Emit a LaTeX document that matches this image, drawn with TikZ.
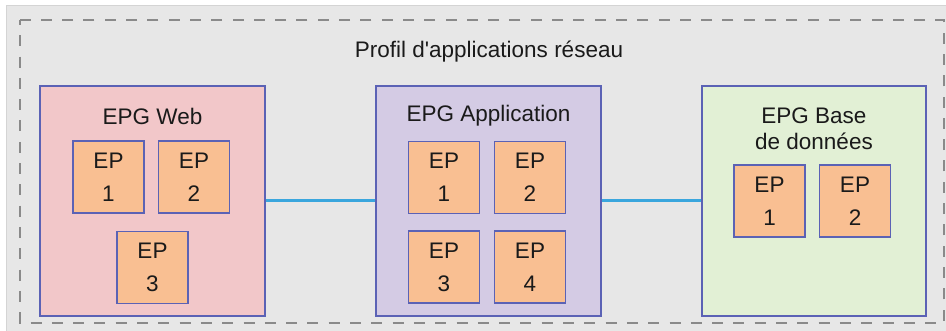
\documentclass[tikz,border=0pt]{standalone}
\usepackage{fontspec}
\setmainfont{Liberation Sans}
\definecolor{bgfill}{HTML}{E7E7E7}
\definecolor{bgline}{HTML}{D4D4D4}
\definecolor{dashline}{HTML}{8A8A8A}
\definecolor{webfill}{HTML}{F2C7C9}
\definecolor{appfill}{HTML}{D4CBE4}
\definecolor{dbfill}{HTML}{E2F0D5}
\definecolor{epfill}{HTML}{F9BF92}
\definecolor{boxline}{HTML}{5B62B5}
\definecolor{linkline}{HTML}{3AA6DD}
\definecolor{ink}{HTML}{1A1A1A}
\tikzset{
  x=1pt, y=-1pt,
  groupbox/.style={draw=boxline, line width=1.5pt, minimum width=225pt,
    minimum height=230pt, inner sep=0pt},
  epbox/.style={draw=boxline, line width=1.5pt, fill=epfill,
    minimum width=71pt, minimum height=72pt, inner sep=0pt, align=center,
    text=ink, font=\fontsize{22.5}{33}\selectfont},
  titletext/.style={text=ink, align=center, inner sep=0pt,
    font=\fontsize{22.5}{26}\selectfont},
  link/.style={draw=linkline, line width=3pt},
}
\begin{document}
\begin{tikzpicture}
\useasboundingbox (0,0) rectangle (946,331);
\clip (0,0) rectangle (946,331);
% grey panel and its dashed frame
\draw[fill=bgfill, draw=bgline, line width=1pt] (6,6) rectangle (960,345);
\draw[dashline, line width=2.5pt, dash pattern=on 11pt off 10.3pt, dash phase=6pt]
  (20,20) rectangle (944,323);
\node[titletext] (profil) at (489,52) {Profil d\textquotesingle applications réseau};
% endpoint groups
\node[groupbox, fill=webfill] (web) at (152.5,201) {};
\node[groupbox, fill=appfill] (app) at (488.5,201) {};
\node[groupbox, fill=dbfill, minimum width=224pt] (db) at (814,201) {};
\node[titletext] (webtitle) at (152.5,116) {EPG Web};
\node[titletext] (apptitle) at (488.5,116) {EPG Application};
\node[titletext] (dbtitle) at (814,129) {EPG Base\\de données};
% endpoints
\node[epbox] (w1) at (108.5,177) {EP\\1};
\node[epbox] (w2) at (194,177) {EP\\2};
\node[epbox] (w3) at (152.5,267.5) {EP\\3};
\node[epbox] (a1) at (444,177.5) {EP\\1};
\node[epbox] (a2) at (530,177.5) {EP\\2};
\node[epbox] (a3) at (444,267) {EP\\3};
\node[epbox] (a4) at (530,267) {EP\\4};
\node[epbox] (d1) at (769.5,201) {EP\\1};
\node[epbox] (d2) at (855,201) {EP\\2};
% links between groups
\draw[link] (web.east) -- (app.west);
\draw[link] (app.east) -- (db.west);
\end{tikzpicture}
\end{document}
